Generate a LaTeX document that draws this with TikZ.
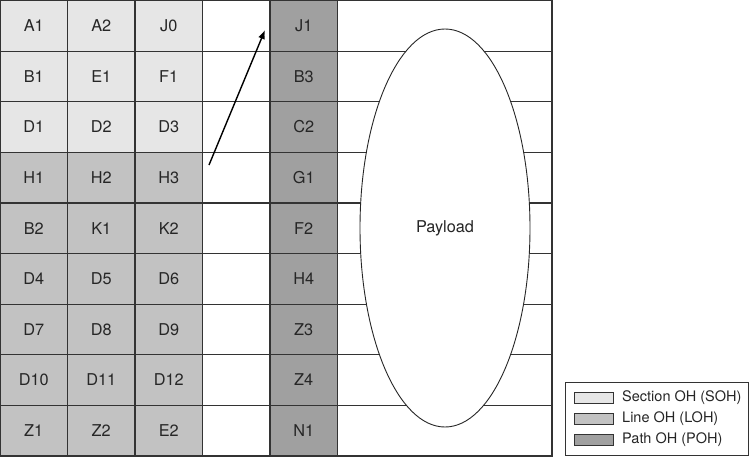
\documentclass[tikz,border=0pt]{standalone}
\usepackage{fontspec}
\setmainfont{TeX Gyre Heros}
\usetikzlibrary{shapes.geometric,arrows.meta}
\begin{document}
\begin{tikzpicture}[x=1pt,y=-1pt,
  gridline/.style={draw=black!80,line width=1.2pt},
  cell/.style={font=\fontsize{16.3}{18}\selectfont,text=black!85},
  swatch/.style={draw=black!80,line width=0.8pt,minimum width=39pt,minimum height=11pt,inner sep=0pt},
  legtext/.style={font=\fontsize{14.5}{16}\selectfont,text=black!85,anchor=west,inner sep=0pt}]
\definecolor{sohc}{HTML}{E6E6E6}
\definecolor{lohc}{HTML}{C2C2C2}
\definecolor{pohc}{HTML}{A0A0A0}
\useasboundingbox (0,0) rectangle (750,456);
\def\rh{50.6}
% fills
\fill[sohc] (0,0.5) rectangle (202.5,{0.5+3*\rh});
\fill[lohc] (0,{0.5+3*\rh}) rectangle (202.5,{0.5+9*\rh});
\fill[pohc] (270,0.5) rectangle (337.5,{0.5+9*\rh});
% horizontal lines
\foreach \i in {1,...,8} {
  \draw[gridline] (0,{0.5+\i*\rh}) -- (552,{0.5+\i*\rh});
}
% vertical lines
\foreach \x in {67.5,135,202.5,270,337.5} {
  \draw[gridline] (\x,0.5) -- (\x,{0.5+9*\rh});
}
\draw[gridline] (0.6,0.6) rectangle (552,{0.5+9*\rh});
% payload ellipse
\node[draw=black!85,fill=white,line width=0.9pt,ellipse,minimum width=170pt,minimum height=398pt,inner sep=0pt] (pay) at (445,228) {};
\node[cell] (paytxt) at (445,228) {Payload};
% cell labels
\foreach \r/\a/\b/\c/\d in {0/A1/A2/J0/J1, 1/B1/E1/F1/B3, 2/D1/D2/D3/C2, 3/H1/H2/H3/G1, 4/B2/K1/K2/F2, 5/D4/D5/D6/H4, 6/D7/D8/D9/Z3, 7/D10/D11/D12/Z4, 8/Z1/Z2/E2/N1} {
  \node[cell] (c\r a) at (33.75,{0.5+(\r+0.5)*\rh}) {\a};
  \node[cell] (c\r b) at (101.25,{0.5+(\r+0.5)*\rh}) {\b};
  \node[cell] (c\r c) at (168.75,{0.5+(\r+0.5)*\rh}) {\c};
  \node[cell] (c\r d) at (303.75,{0.5+(\r+0.5)*\rh}) {\d};
}
% arrow
\coordinate (atail) at (209,165);
\coordinate (ahead) at (265,30);
\draw[line width=1.4pt,-{Latex[length=9pt,width=7pt]}] (atail) -- (ahead);
% legend
\draw[draw=black!80,line width=0.9pt] (565,382) rectangle (748,455);
\node[swatch,fill=sohc] (s1) at (593.5,397.5) {};
\node[swatch,fill=lohc] (s2) at (593.5,419) {};
\node[swatch,fill=pohc] (s3) at (593.5,440) {};
\node[legtext] (l1) at (622,397.5) {Section OH (SOH)};
\node[legtext] (l2) at (622,419) {Line OH (LOH)};
\node[legtext] (l3) at (622,440) {Path OH (POH)};
\end{tikzpicture}
\end{document}
